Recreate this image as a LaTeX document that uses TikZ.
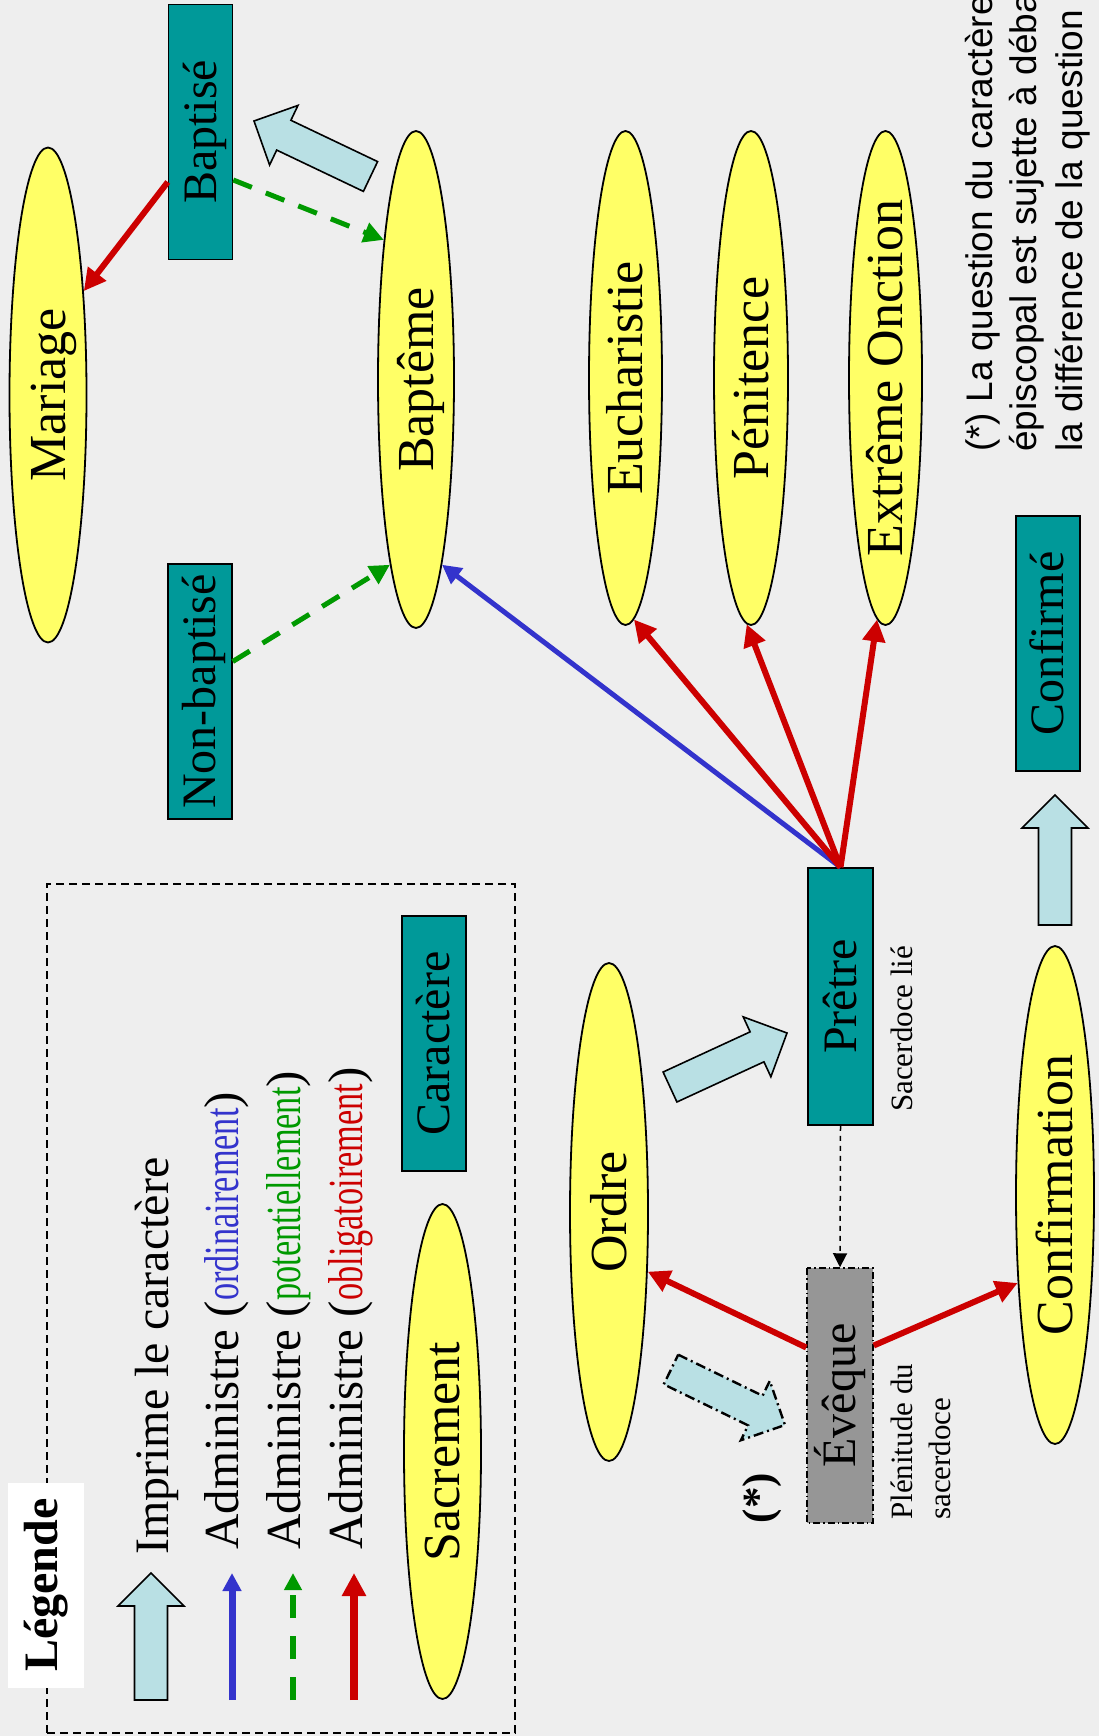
\documentclass[tikz,border=0pt]{standalone}
\usepackage{graphicx}
\usepackage{fontspec}
\setmainfont{Liberation Serif}
\newfontfamily\sansfn{Liberation Sans}
\usetikzlibrary{calc,arrows.meta,shapes.geometric}
\definecolor{tealc}{RGB}{0,153,153}
\definecolor{yellowc}{RGB}{255,255,102}
\definecolor{grayc}{RGB}{150,150,150}
\definecolor{lblue}{RGB}{185,224,228}
\definecolor{redc}{RGB}{204,0,0}
\definecolor{bluec}{RGB}{51,51,204}
\definecolor{greenc}{RGB}{0,153,0}
\definecolor{bgc}{RGB}{238,238,238}
\newcommand\ctext[1]{\makebox[0pt]{\raisebox{-0.33em}[0pt][0pt]{#1}}}
\newcommand\cond[1]{\scalebox{0.7}[1]{#1}}
\newcommand\blockarr[3]{%
  \coordinate (#2-b) at ($(#3)!33pt!(#2)$);
  \draw[#1] ($(#2)!16.5pt!90:(#3)$) -- ($(#2-b)!16.5pt!-90:(#2)$) -- ($(#2-b)!33pt!-90:(#2)$) -- (#3) -- ($(#2-b)!33pt!90:(#2)$) -- ($(#2-b)!16.5pt!90:(#2)$) -- ($(#2)!16.5pt!-90:(#3)$) -- cycle;}
\tikzset{
  sacr/.style={ellipse, draw=black, line width=1.8pt, fill=yellowc, rotate=90, inner sep=0pt, font=\fontsize{52}{56}\selectfont},
  carbox/.style={rectangle, draw=black, line width=1.5pt, fill=tealc, rotate=90, inner sep=0pt, minimum width=255pt, minimum height=64pt, font=\fontsize{48}{52}\selectfont},
  smalltxt/.style={rotate=90, inner sep=0pt, font=\fontsize{31}{36}\selectfont},
  foot/.style={rotate=90, inner sep=0pt, font=\sansfn\fontsize{37}{44}\selectfont},
  legtxt/.style={rotate=90, inner sep=0pt, font=\fontsize{49}{54}\selectfont},
  bigarr/.style={fill=lblue, draw=black, line width=1.6pt, line join=miter},
  dasharr/.style={fill=lblue, draw=black, line width=2.4pt, dash pattern=on 10pt off 4pt on 2pt off 4pt},
  redarr/.style={draw=redc, line width=6pt, -{Triangle[length=22pt,width=22pt]}},
  bluearr/.style={draw=bluec, line width=5pt, -{Triangle[length=19pt,width=19pt]}},
  greenarr/.style={draw=greenc, line width=5pt, dash pattern=on 20pt off 15pt, -{Triangle[length=20pt,width=20pt]}},
  blackdash/.style={draw=black, line width=1.5pt, dash pattern=on 5pt off 5pt, -{Triangle[length=14pt,width=14pt]}}
}
\begin{document}
\begin{tikzpicture}[x=1pt,y=-1pt]
\useasboundingbox (0,0) rectangle (1099,1736);
\clip (0,0) rectangle (1099,1736);
\fill[bgc] (0,0) rectangle (1099,1736);

% legend frame
\node[draw=black, line width=1.5pt, dash pattern=on 8pt off 5pt, rectangle, inner sep=0pt, minimum width=468pt, minimum height=849pt] (legframe) at (281,1308.5) {};
\node[rotate=90, fill=white, inner sep=0pt, minimum width=205pt, minimum height=76pt, font=\bfseries\fontsize{48}{52}\selectfont] (legtitle) at (46,1585) {Légende};

% sacraments and characters
\node[sacr, minimum width=495pt, minimum height=77pt] (mariage) at (48,395) {\ctext{Mariage}};
\node[carbox] (baptise) at (200.5,132) {\ctext{Baptisé}};
\node[sacr, minimum width=497pt, minimum height=76pt] (bapteme) at (416,379.5) {\ctext{Baptême}};
\node[carbox] (nonbaptise) at (200,691.5) {\ctext{Non-baptisé}};
\node[sacr, minimum width=494pt, minimum height=73pt] (euch) at (625.5,378) {\ctext{Eucharistie}};
\node[sacr, minimum width=494pt, minimum height=74pt] (penit) at (751,378) {\ctext{Pénitence}};
\node[sacr, minimum width=494pt, minimum height=73pt] (extreme) at (885.5,378) {\ctext{Extrême Onction}};
\node[carbox] (confirme) at (1048,643.5) {\ctext{Confirmé}};
\node[sacr, minimum width=498pt, minimum height=78pt] (confirmation) at (1055,1195) {\ctext{Confirmation}};
\node[carbox, minimum width=257pt, minimum height=65pt] (pretre) at (840.5,996.5) {\ctext{Prêtre}};
\node[carbox, fill=grayc, dash pattern=on 7pt off 3pt on 1.5pt off 3pt, minimum width=255pt, minimum height=66pt] (eveque) at (840,1395.5) {\ctext{Évêque}};
\node[sacr, minimum width=498pt, minimum height=78pt] (ordre) at (609,1212) {\ctext{Ordre}};

% small texts
\node[smalltxt, anchor=base west] (sacerd) at (912,1112) {Sacerdoce lié};
\node[smalltxt, anchor=base west] (plen1) at (912,1520) {Plénitude du};
\node[smalltxt, anchor=base west] (plen2) at (950,1520) {sacerdoce};
\node[rotate=90, inner sep=0pt, font=\bfseries\fontsize{43}{46}\selectfont] (star) at (762,1498) {(*)};

% footnote
\node[foot, anchor=base west] (fn1) at (992,452) {(*) La question du caractère};
\node[foot, anchor=base west] (fn2) at (1036,452) {épiscopal est sujette à débat};
\node[foot, anchor=base west] (fn3) at (1082,452) {la différence de la question};

% block arrows
\coordinate (a1t) at (370.5,176.5); \coordinate (a1h) at (254,121);
\blockarr{bigarr}{a1t}{a1h}
\coordinate (a2t) at (670,1087); \coordinate (a2h) at (787,1033);
\blockarr{bigarr}{a2t}{a2h}
\coordinate (a3t) at (671,1369.5); \coordinate (a3h) at (785,1425);
\blockarr{dasharr}{a3t}{a3h}
\coordinate (a4t) at (1055,925); \coordinate (a4h) at (1055,795);
\blockarr{bigarr}{a4t}{a4h}

% connectors
\draw[redarr] ($(baptise.north)+(0,50)$) -- (mariage.-19);
\draw[greenarr] ($(baptise.south)+(0,48)$) -- (bapteme.13);
\draw[greenarr] ($(nonbaptise.south)+(0,-30)$) -- (bapteme.172);
\draw[bluearr] (pretre.east) -- (bapteme.188);
\draw[redarr] (pretre.east) -- (euch.182);
\draw[redarr] (pretre.east) -- (penit.179);
\draw[redarr] (pretre.east) -- (extreme.178);
\draw[blackdash] (pretre.west) -- (eveque.east);
\draw[redarr] ($(eveque.north)+(0,-48)$) -- (ordre.213);
\draw[redarr] ($(eveque.south)+(0,-50)$) -- (confirmation.157);

% legend content
\coordinate (a5t) at (151,1700); \coordinate (a5h) at (151,1573);
\blockarr{bigarr}{a5t}{a5h}
\coordinate (lb1) at (232,1700); \coordinate (lb2) at (232,1573);
\coordinate (lg1) at (293,1700); \coordinate (lg2) at (293,1573);
\coordinate (lr1) at (354,1700); \coordinate (lr2) at (354,1573);
\draw[draw=bluec, line width=7pt, -{Triangle[length=18pt,width=18pt]}] (lb1) -- (lb2);
\draw[draw=greenc, line width=6pt, dash pattern=on 23pt off 18pt, -{Triangle[length=17pt,width=17pt]}] (lg1) -- (lg2);
\draw[draw=redc, line width=8pt, -{Triangle[length=23pt,width=23pt]}] (lr1) -- (lr2);
\node[legtxt, anchor=base west, font=\fontsize{48}{52}\selectfont] (lt1) at (168,1555) {Imprime le caractère};
\node[legtxt, anchor=base west] (lt2) at (238,1550) {Administre (\textcolor{bluec}{\cond{ordinairement}})};
\node[legtxt, anchor=base west] (lt3) at (300,1550) {Administre (\textcolor{greenc}{\cond{potentiellement}})};
\node[legtxt, anchor=base west] (lt4) at (362,1550) {Administre (\textcolor{redc}{\cond{obligatoirement}})};
\node[carbox] (caract) at (434,1043.5) {\ctext{Caractère}};
\node[sacr, minimum width=495pt, minimum height=77pt] (sacrem) at (442.5,1451.5) {\ctext{Sacrement}};
\end{tikzpicture}
\end{document}
